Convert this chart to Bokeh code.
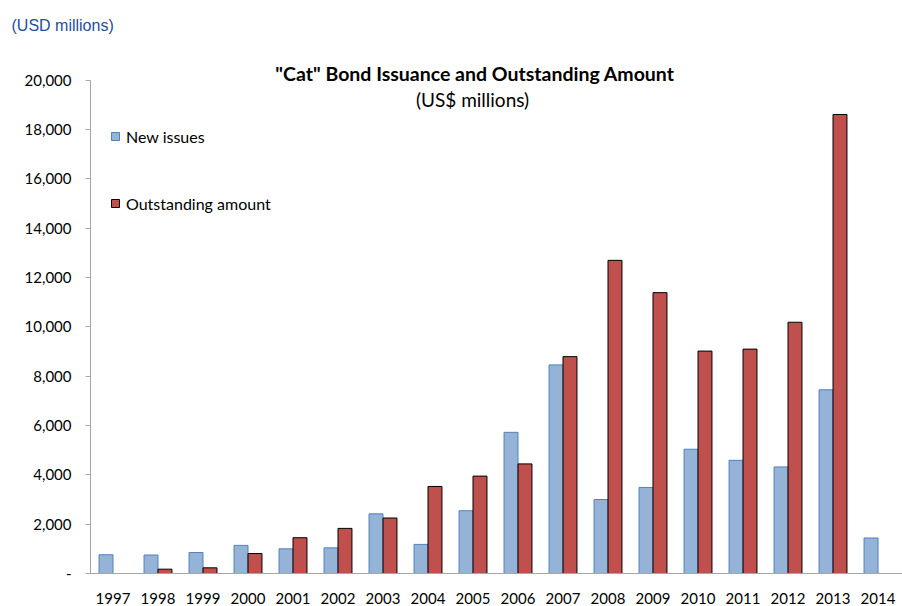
import numpy as np
from bokeh.plotting import figure
from bokeh.models import (ColumnDataSource, Range1d, FixedTicker, NumeralTickFormatter,
                          Legend, LegendItem, Label)
from bokeh.transform import dodge
from bokeh.embed import file_html
from bokeh.resources import INLINE

years = ["1997", "1998", "1999", "2000", "2001", "2002", "2003", "2004", "2005",
         "2006", "2007", "2008", "2009", "2010", "2011", "2012", "2013", "2014"]
new_issues = [760, 750, 850, 1140, 1000, 1040, 2420, 1180, 2545,
              5725, 8460, 3000, 3490, 5040, 4590, 4320, 7450, 1440]
outstanding = [None, 175, 230, 810, 1450, 1830, 2250, 3530, 3950,
               4445, 8795, 12700, 11390, 9020, 9100, 10190, 18615, None]
y_ticks = [0, 2000, 4000, 6000, 8000, 10000, 12000, 14000, 16000, 18000, 20000]

title_text = '"Cat" Bond Issuance and Outstanding Amount'
subtitle_text = "(US$ millions)"
unit_text = "(USD millions)"

src = ColumnDataSource(dict(
    x=np.arange(len(years)),
    new=np.array(new_issues, dtype=float),
    out=np.array([np.nan if v is None else v for v in outstanding], dtype=float),
))

p = figure(width=902, height=606, output_backend="svg", toolbar_location=None,
           x_range=Range1d(-0.5, 17.544), y_range=Range1d(0, 21616),
           min_border_left=90, min_border_right=0, min_border_top=40, min_border_bottom=31)
p.outline_line_color = None
p.xgrid.grid_line_color = None
p.ygrid.grid_line_color = None
p.background_fill_color = "white"
p.border_fill_color = "white"

p.title.text = unit_text
p.title.align = "left"
p.title.offset = -79
p.title.standoff = 13
p.title.text_font = "Liberation Sans"
p.title.text_font_size = "16px"
p.title.text_font_style = "normal"
p.title.text_color = "#1f4e9c"

bw = 0.31
r1 = p.vbar(x=dodge("x", -bw / 2, range=p.x_range), top="new", width=bw, source=src,
            fill_color="#95b3d7", line_color="#4f81bd", line_width=1)
r2 = p.vbar(x=dodge("x", bw / 2, range=p.x_range), top="out", width=bw, source=src,
            fill_color="#c0504d", line_color="#000000", line_width=1)

axis_col = "#a6a6a6"
xa = p.xaxis[0]
xa.ticker = FixedTicker(ticks=list(range(len(years))))
xa.major_label_overrides = {i: y for i, y in enumerate(years)}
xa.axis_line_color = axis_col
xa.major_tick_line_color = None
xa.minor_tick_line_color = None
xa.major_label_standoff = 13
xa.major_label_text_font = "Lato"
xa.major_label_text_font_size = "15px"
xa.major_label_text_color = "#000000"

ya = p.yaxis[0]
ya.ticker = FixedTicker(ticks=y_ticks)
ya.bounds = (0, 20000)
ya.formatter = NumeralTickFormatter(format="0,0")
ya.major_label_overrides = {0: "-"}
ya.axis_line_color = axis_col
ya.major_tick_line_color = axis_col
ya.major_tick_out = 5
ya.major_tick_in = 0
ya.minor_tick_line_color = None
ya.major_label_standoff = 14
ya.major_label_text_font = "Lato"
ya.major_label_text_font_size = "15px"
ya.major_label_text_color = "#000000"

legend = Legend(items=[LegendItem(label="New issues", renderers=[r1]),
                       LegendItem(label="Outstanding amount", renderers=[r2])],
                location=(20, 360), orientation="vertical",
                padding=0, margin=0, spacing=47,
                glyph_width=10, glyph_height=10, label_height=20, label_standoff=6,
                label_text_font="Lato", label_text_font_size="16px",
                label_text_color="#000000",
                border_line_color=None, background_fill_alpha=0)
p.add_layout(legend)

p.add_layout(Label(x=8.044, y=20283, text=title_text, text_align="center",
                   text_baseline="middle", text_font="Lato", text_font_style="bold",
                   text_font_size="19.5px", text_color="#000000"))
p.add_layout(Label(x=7.989, y=19232, text=subtitle_text, text_align="center",
                   text_baseline="middle", text_font="Lato",
                   text_font_size="19px", text_color="#000000"))

open("out.html", "w").write(file_html(p, INLINE))
